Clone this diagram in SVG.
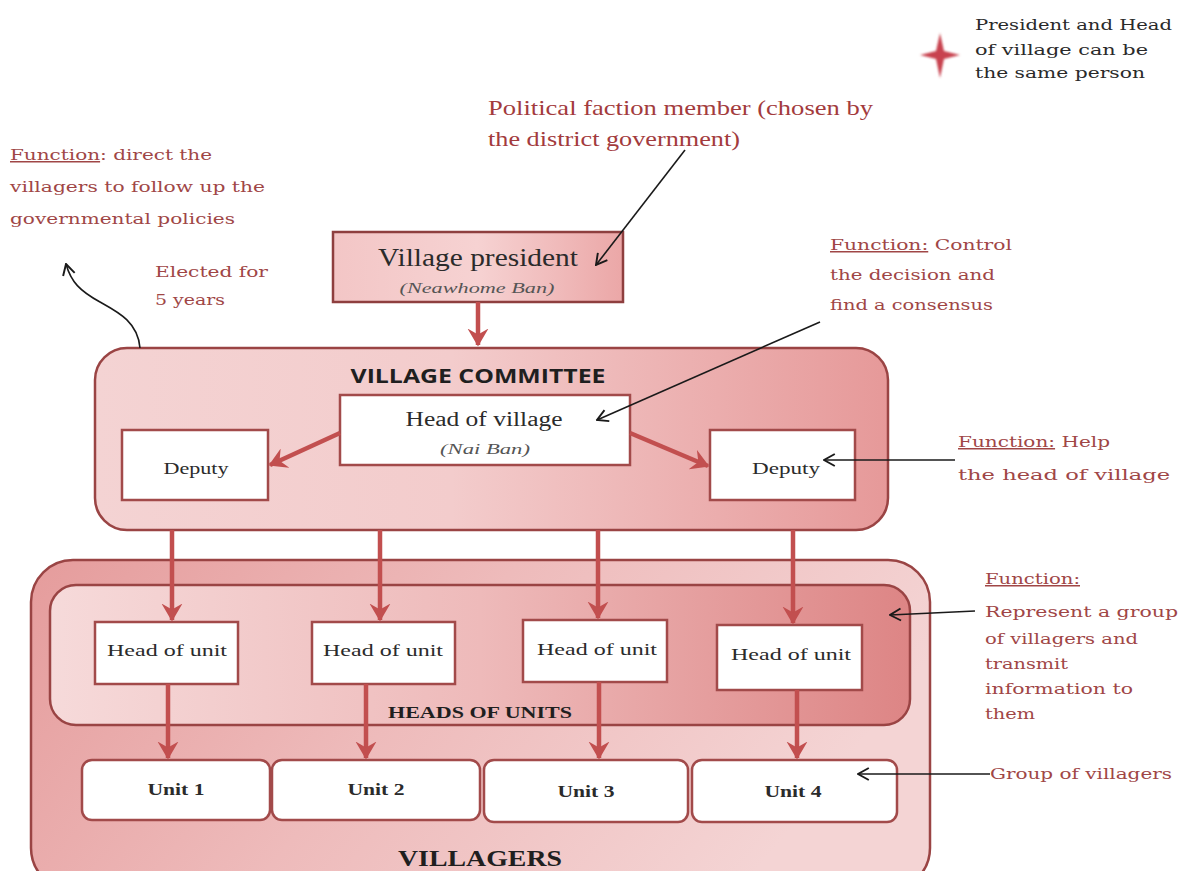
<svg xmlns="http://www.w3.org/2000/svg" width="1184" height="871" viewBox="0 0 1184 871">
  <style>
    .note { font-family: "DejaVu Serif", "Liberation Serif", serif; font-size: 15px; fill: #a04646; }
    .note-dark { font-family: "DejaVu Serif", "Liberation Serif", serif; font-size: 15px; fill: #2a2a2a; }
    .big-note { font-family: "Liberation Serif", "Times New Roman", serif; font-size: 21px; fill: #a33b3d; }
    .box-label { font-family: "Liberation Serif", "Times New Roman", serif; fill: #2b2b2b; text-anchor: middle; }
    .box-sub { font-family: "Liberation Serif", "Times New Roman", serif; font-style: italic; font-size: 14px; fill: #555; text-anchor: middle; }
    .unit-label { font-family: "Liberation Serif", "Times New Roman", serif; font-weight: bold; font-size: 16px; fill: #2b2b2b; text-anchor: middle; }
    .title-sans { font-family: "Open Sans", "Liberation Sans", sans-serif; font-weight: bold; font-size: 20px; fill: #1f1f1f; text-anchor: middle; }
    .title-serif { font-family: "Liberation Serif", "Times New Roman", serif; font-weight: bold; fill: #1f1f1f; text-anchor: middle; }
    .white-box { fill: #ffffff; stroke: #a24a4a; stroke-width: 2.5; }
    .frame { stroke: #9a4444; stroke-width: 2.5; }
    .red-link { fill: none; stroke: #c24f4f; stroke-width: 4.5; }
    .black-link { fill: none; stroke: #1a1a1a; stroke-width: 1.6; }
    .ul { text-decoration: underline; }
  </style>
  <defs>
    <linearGradient id="gPres" x1="0" y1="0" x2="1" y2="0">
      <stop offset="0" stop-color="#f3c6c6"/>
      <stop offset="0.5" stop-color="#f6d2d2"/>
      <stop offset="1" stop-color="#eba7a7"/>
    </linearGradient>
    <linearGradient id="gCommittee" x1="0" y1="0" x2="1" y2="0">
      <stop offset="0" stop-color="#f4d3d3"/>
      <stop offset="0.45" stop-color="#f3cccc"/>
      <stop offset="1" stop-color="#e69999"/>
    </linearGradient>
    <linearGradient id="gVillagers" x1="0" y1="0" x2="1" y2="0.3">
      <stop offset="0" stop-color="#e59c9c"/>
      <stop offset="0.5" stop-color="#eebbbb"/>
      <stop offset="1" stop-color="#f4d4d4"/>
    </linearGradient>
    <linearGradient id="gHeads" x1="0" y1="0" x2="1" y2="0">
      <stop offset="0" stop-color="#f6dada"/>
      <stop offset="0.5" stop-color="#eebaba"/>
      <stop offset="1" stop-color="#dd8585"/>
    </linearGradient>
    <marker id="redHead" viewBox="0 0 12 14" refX="11" refY="7" markerWidth="4" markerHeight="4.7" orient="auto" markerUnits="strokeWidth">
      <path d="M0,0 L12,7 L0,14 L4,7 Z" fill="#c24f4f"/>
    </marker>
    <marker id="openHead" viewBox="0 0 12 12" refX="11" refY="6" markerWidth="9" markerHeight="9" orient="auto" markerUnits="strokeWidth">
      <path d="M2,1 L11,6 L2,11" fill="none" stroke="#1a1a1a" stroke-width="1.6"/>
    </marker>
    <filter id="soft" x="-30%" y="-30%" width="160%" height="160%">
      <feGaussianBlur stdDeviation="1.2"/>
    </filter>
  </defs>

  <rect width="1184" height="871" fill="#ffffff"/>

  <!-- legend: star mark with note -->
  <g id="legend">
    <path d="M940,33 L944,51 L960,55 L944,59 L940,78 L936,59 L920,55 L936,51 Z" fill="#c8434f" filter="url(#soft)"/>
    <text class="note-dark" x="975" y="30" textLength="197" lengthAdjust="spacingAndGlyphs">President and Head</text>
    <text class="note-dark" x="975" y="55" textLength="173" lengthAdjust="spacingAndGlyphs">of village can be</text>
    <text class="note-dark" x="975" y="78" textLength="170" lengthAdjust="spacingAndGlyphs">the same person</text>
  </g>

  <!-- annotations -->
  <g id="note-faction">
    <text class="big-note" x="488" y="115" textLength="385" lengthAdjust="spacingAndGlyphs">Political faction member (chosen by</text>
    <text class="big-note" x="488" y="146" textLength="252" lengthAdjust="spacingAndGlyphs">the district government)</text>
  </g>
  <g id="note-president">
    <text class="note" x="10" y="160" textLength="202" lengthAdjust="spacingAndGlyphs"><tspan class="ul">Function</tspan>: direct the</text>
    <text class="note" x="10" y="192" textLength="255" lengthAdjust="spacingAndGlyphs">villagers to follow up the</text>
    <text class="note" x="10" y="224" textLength="225" lengthAdjust="spacingAndGlyphs">governmental policies</text>
  </g>
  <g id="note-elected">
    <text class="note" x="155" y="277" textLength="113" lengthAdjust="spacingAndGlyphs">Elected for</text>
    <text class="note" x="155" y="305" textLength="70" lengthAdjust="spacingAndGlyphs">5 years</text>
  </g>
  <g id="note-head">
    <text class="note" x="830" y="250" textLength="182" lengthAdjust="spacingAndGlyphs"><tspan class="ul">Function:</tspan> Control</text>
    <text class="note" x="830" y="280" textLength="165" lengthAdjust="spacingAndGlyphs">the decision and</text>
    <text class="note" x="830" y="310" textLength="163" lengthAdjust="spacingAndGlyphs">find a consensus</text>
  </g>
  <g id="note-deputy">
    <text class="note" x="958" y="447" textLength="152" lengthAdjust="spacingAndGlyphs"><tspan class="ul">Function:</tspan> Help</text>
    <text class="note" x="958" y="480" textLength="212" lengthAdjust="spacingAndGlyphs">the head of village</text>
  </g>
  <g id="note-units">
    <text class="note" x="985" y="584" textLength="95" lengthAdjust="spacingAndGlyphs"><tspan class="ul">Function:</tspan></text>
    <text class="note" x="985" y="617" textLength="193" lengthAdjust="spacingAndGlyphs">Represent a group</text>
    <text class="note" x="985" y="644" textLength="153" lengthAdjust="spacingAndGlyphs">of villagers and</text>
    <text class="note" x="985" y="669" textLength="83" lengthAdjust="spacingAndGlyphs">transmit</text>
    <text class="note" x="985" y="694" textLength="148" lengthAdjust="spacingAndGlyphs">information to</text>
    <text class="note" x="985" y="719" textLength="50" lengthAdjust="spacingAndGlyphs">them</text>
  </g>
  <g id="note-villagers">
    <text class="note" x="990" y="779" textLength="182" lengthAdjust="spacingAndGlyphs">Group of villagers</text>
  </g>

  <!-- containers -->
  <g id="villagers">
    <rect class="frame" x="31" y="560" width="899" height="330" rx="42" fill="url(#gVillagers)"/>
    <text class="title-serif" x="480" y="866" font-size="23" textLength="164" lengthAdjust="spacingAndGlyphs">VILLAGERS</text>
  </g>
  <g id="heads-of-units">
    <rect class="frame" x="50" y="585" width="860" height="140" rx="26" fill="url(#gHeads)"/>
    <text class="title-serif" x="480" y="718" font-size="16" textLength="184" lengthAdjust="spacingAndGlyphs">HEADS OF UNITS</text>
  </g>
  <g id="village-committee">
    <rect class="frame" x="95" y="348" width="793" height="182" rx="32" fill="url(#gCommittee)"/>
    <text class="title-sans" x="478" y="383" textLength="255" lengthAdjust="spacingAndGlyphs">VILLAGE COMMITTEE</text>
  </g>

  <!-- nodes -->
  <g id="village-president">
    <rect x="333" y="232" width="290" height="70" fill="url(#gPres)" stroke="#8e3f3f" stroke-width="2.5"/>
    <text class="box-label" x="478" y="266" font-size="25" textLength="200" lengthAdjust="spacingAndGlyphs">Village president</text>
    <text class="box-sub" x="477" y="293" textLength="155" lengthAdjust="spacingAndGlyphs">(Neawhome Ban)</text>
  </g>
  <g id="head-of-village">
    <rect class="white-box" x="340" y="395" width="290" height="70"/>
    <text class="box-label" x="484" y="426" font-size="20" textLength="157" lengthAdjust="spacingAndGlyphs">Head of village</text>
    <text class="box-sub" x="485" y="454" textLength="90" lengthAdjust="spacingAndGlyphs">(Nai Ban)</text>
  </g>
  <g id="deputy-left">
    <rect class="white-box" x="122" y="430" width="146" height="70"/>
    <text class="box-label" x="196" y="474" font-size="16" textLength="65" lengthAdjust="spacingAndGlyphs">Deputy</text>
  </g>
  <g id="deputy-right">
    <rect class="white-box" x="710" y="430" width="145" height="70"/>
    <text class="box-label" x="786" y="474" font-size="16" textLength="68" lengthAdjust="spacingAndGlyphs">Deputy</text>
  </g>
  <g id="head-unit-1">
    <rect class="white-box" x="95" y="622" width="143" height="62"/>
    <text class="box-label" x="167" y="656" font-size="16" textLength="120" lengthAdjust="spacingAndGlyphs">Head of unit</text>
  </g>
  <g id="head-unit-2">
    <rect class="white-box" x="312" y="622" width="143" height="62"/>
    <text class="box-label" x="383" y="656" font-size="16" textLength="120" lengthAdjust="spacingAndGlyphs">Head of unit</text>
  </g>
  <g id="head-unit-3">
    <rect class="white-box" x="523" y="620" width="144" height="62"/>
    <text class="box-label" x="597" y="655" font-size="16" textLength="120" lengthAdjust="spacingAndGlyphs">Head of unit</text>
  </g>
  <g id="head-unit-4">
    <rect class="white-box" x="717" y="625" width="145" height="65"/>
    <text class="box-label" x="791" y="660" font-size="16" textLength="120" lengthAdjust="spacingAndGlyphs">Head of unit</text>
  </g>
  <g id="unit-1">
    <rect class="white-box" x="82" y="760" width="188" height="60" rx="10"/>
    <text class="unit-label" x="176" y="795" textLength="57" lengthAdjust="spacingAndGlyphs">Unit 1</text>
  </g>
  <g id="unit-2">
    <rect class="white-box" x="272" y="760" width="208" height="60" rx="10"/>
    <text class="unit-label" x="376" y="795" textLength="57" lengthAdjust="spacingAndGlyphs">Unit 2</text>
  </g>
  <g id="unit-3">
    <rect class="white-box" x="484" y="760" width="204" height="62" rx="10"/>
    <text class="unit-label" x="586" y="797" textLength="57" lengthAdjust="spacingAndGlyphs">Unit 3</text>
  </g>
  <g id="unit-4">
    <rect class="white-box" x="692" y="760" width="205" height="62" rx="10"/>
    <text class="unit-label" x="793" y="797" textLength="57" lengthAdjust="spacingAndGlyphs">Unit 4</text>
  </g>

  <!-- connectors -->
  <g id="connectors">
    <line class="red-link" x1="478" y1="302" x2="478" y2="345" marker-end="url(#redHead)"/>
    <line class="red-link" x1="340" y1="433" x2="270" y2="465" marker-end="url(#redHead)"/>
    <line class="red-link" x1="630" y1="433" x2="708" y2="466" marker-end="url(#redHead)"/>
    <line class="red-link" x1="172" y1="530" x2="172" y2="620" marker-end="url(#redHead)"/>
    <line class="red-link" x1="380" y1="530" x2="380" y2="620" marker-end="url(#redHead)"/>
    <line class="red-link" x1="598" y1="530" x2="598" y2="618" marker-end="url(#redHead)"/>
    <line class="red-link" x1="793" y1="530" x2="793" y2="623" marker-end="url(#redHead)"/>
    <line class="red-link" x1="168" y1="684" x2="168" y2="758" marker-end="url(#redHead)"/>
    <line class="red-link" x1="366" y1="684" x2="366" y2="758" marker-end="url(#redHead)"/>
    <line class="red-link" x1="599" y1="682" x2="599" y2="758" marker-end="url(#redHead)"/>
    <line class="red-link" x1="797" y1="690" x2="797" y2="758" marker-end="url(#redHead)"/>

    <line class="black-link" x1="685" y1="150" x2="596" y2="265" marker-end="url(#openHead)"/>
    <line class="black-link" x1="820" y1="322" x2="597" y2="420" marker-end="url(#openHead)"/>
    <line class="black-link" x1="955" y1="460" x2="824" y2="460" marker-end="url(#openHead)"/>
    <line class="black-link" x1="975" y1="611" x2="890" y2="615" marker-end="url(#openHead)"/>
    <line class="black-link" x1="990" y1="774" x2="858" y2="774" marker-end="url(#openHead)"/>
    <path class="black-link" d="M140,348 C138,322 118,312 100,302 C80,291 71,282 66,264" marker-end="url(#openHead)"/>
  </g>
</svg>
